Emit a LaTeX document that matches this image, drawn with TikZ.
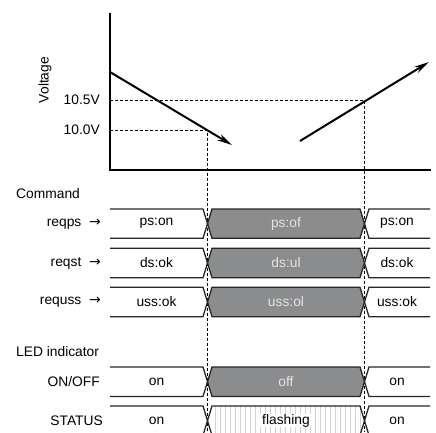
\documentclass[tikz,border=0pt]{standalone}
\usepackage{fontspec}
\setmainfont{Liberation Sans}
\newfontfamily\arrowfont{DejaVu Sans}
\usetikzlibrary{arrows.meta}
\definecolor{cellgray}{HTML}{8B8C8E}
\definecolor{celltext}{HTML}{E4E4E4}
\definecolor{hatch}{HTML}{D2D2D2}
\tikzset{
  lbl/.style={font=\fontsize{13.8}{15}\selectfont, inner sep=0pt},
  sig/.style={line width=1.3pt, black!85},
  guide/.style={line width=0.8pt, dash pattern=on 3pt off 2pt},
  axis/.style={line width=2.6pt, line cap=rect},
  vline/.style={line width=2pt, -{Stealth[length=15pt,width=7pt]}},
}
\newcommand\rarr{{\arrowfont\fontsize{14}{15}\selectfont →}}
% #1 name, #2 top, #3 bottom, #4 left text, #5 mid text, #6 right text, #7 mode (g=gray, h=hatched)
\newcommand\busrow[7]{%
  \pgfmathsetmacro\rc{(#2+#3)/2}%
  \if g#7
    \fill[cellgray] (207.5,\rc) -- (212,#2) -- (360,#2) -- (364.5,\rc) -- (360,#3) -- (212,#3) -- cycle;
    \node[lbl, text=celltext] (#1m) at (286,\rc) {#5};
  \else
    \begin{scope}
      \clip (207.5,\rc) -- (212,#2) -- (360,#2) -- (364.5,\rc) -- (360,#3) -- (212,#3) -- cycle;
      \foreach \hx in {215,220,...,362} \draw[hatch, line width=0.6pt] (\hx,#2) -- (\hx,#3);
    \end{scope}
    \node[lbl, fill=white, inner xsep=2pt] (#1m) at (286,\rc) {#5};
  \fi
  \draw[sig] (110,#2) -- (203,#2) -- (212,#3) -- (360,#3) -- (369,#2) -- (430,#2);
  \draw[sig] (110,#3) -- (203,#3) -- (212,#2) -- (360,#2) -- (369,#3) -- (430,#3);
  \node[lbl] (#1l) at (156.5,\rc) {#4};
  \node[lbl] (#1r) at (397,\rc) {#6};
}
\begin{document}
\begin{tikzpicture}[x=1pt,y=-1pt]
\useasboundingbox (0,0) rectangle (436,432);
% axes
\coordinate (ytop) at (110,14);
\coordinate (orig) at (110,170);
\coordinate (xend) at (430,170);
% guides
\coordinate (g1a) at (110,100);
\coordinate (g1b) at (364.5,100);
\coordinate (g1c) at (364.5,432);
\coordinate (g2a) at (110,130);
\coordinate (g2b) at (207.5,130);
\coordinate (g2c) at (207.5,432);
\draw[guide] (g1a) -- (g1b) -- (g1c);
\draw[guide] (g2a) -- (g2b) -- (g2c);
\draw[axis] (ytop) -- (orig) -- (xend);
% voltage lines
\coordinate (d0) at (110,72);
\coordinate (d1) at (232,145);
\coordinate (u0) at (300,141);
\coordinate (u1) at (429,62);
\draw[vline] (d0) -- (d1);
\draw[vline] (u0) -- (u1);
\node[lbl, anchor=east] (v105) at (100,100) {10.5V};
\node[lbl, anchor=east] (v100) at (100,130) {10.0V};
\node[lbl, rotate=90] (volt) at (45,80) {Voltage};
% command section
\node[lbl, anchor=west] (cmd) at (16,194) {Command};
\busrow{ps}{209}{238.3}{ps:on}{ps:of}{ps:on}{g}
\busrow{st}{248.3}{277.7}{ds:ok}{ds:ul}{ds:ok}{g}
\busrow{us}{287.3}{316.7}{uss:ok}{uss:ol}{uss:ok}{g}
\node[lbl, anchor=east] (reqps) at (101,224) {reqps\ \ \rarr};
\node[lbl, anchor=east] (reqst) at (101,263) {reqst\ \ \rarr};
\node[lbl, anchor=east] (requss) at (101,302) {requss\ \ \rarr};
% LED section
\node[lbl, anchor=west] (led) at (16,352) {LED indicator};
\busrow{oo}{367}{396.4}{on}{off}{on}{g}
\busrow{sta}{406}{435.4}{on}{flashing}{on}{h}
\node[lbl, anchor=east] (onoff) at (100,382) {ON/OFF};
\node[lbl, anchor=east] (status) at (103,421) {STATUS};
\end{tikzpicture}
\end{document}
